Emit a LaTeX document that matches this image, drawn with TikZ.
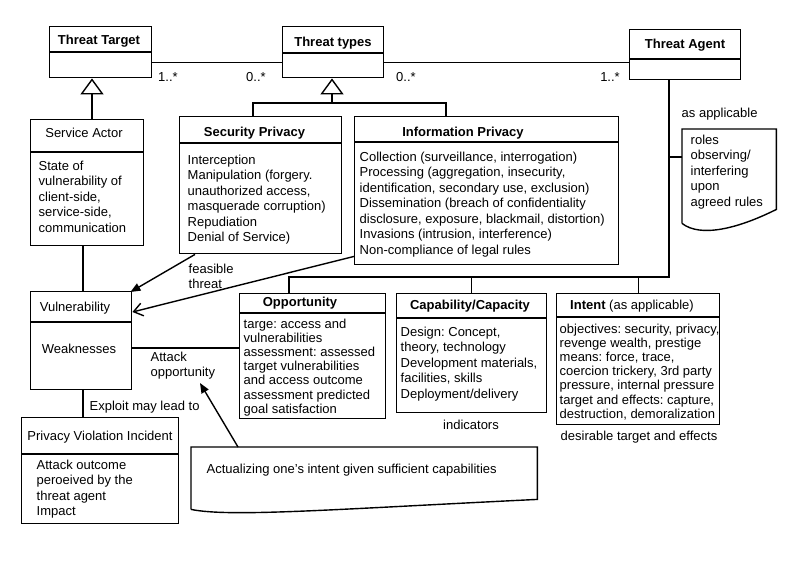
\documentclass[tikz,border=0pt]{standalone}
\usepackage{fontspec}
\setmainfont{Liberation Sans}
\usetikzlibrary{arrows.meta}
\frenchspacing

\tikzset{
  cls/.style={draw, anchor=north west, inner sep=0pt},
  ttl/.style={font=\fontsize{13pt}{15.5pt}\selectfont\bfseries, inner sep=0pt},
  txt/.style={align=left, anchor=north west, inner sep=0pt},
  tight/.style={font=\fontsize{13pt}{14.2pt}\selectfont},
  lbl/.style={inner sep=0pt},
  gen/.style={-{Triangle[open, length=16pt, width=23pt]}},
  dep/.style={-{Triangle[length=10pt, width=8pt]}},
  nav/.style={-{Straight Barb[length=9pt, width=13pt]}},
}

\begin{document}
\begin{tikzpicture}[x=1pt, y=-1pt, line width=1.4pt,
  font=\fontsize{13pt}{15.5pt}\selectfont]

  \fill[white] (0,0) rectangle (800,566);
  \useasboundingbox (0,0) rectangle (800,566);

  % Threat target
  \node[cls, minimum width=102pt, minimum height=51pt] (tt) at (49,26) {};
  \draw ([yshift=-26pt]tt.north west) -- ([yshift=-26pt]tt.north east);
  \node[ttl] (tt-t) at (99,41) {Threat Target};

  % Threat types
  \node[cls, minimum width=101pt, minimum height=51pt] (ty) at (282,26) {};
  \draw ([yshift=-27pt]ty.north west) -- ([yshift=-27pt]ty.north east);
  \node[ttl] (ty-t) at (333,43) {Threat types};

  % Threat agent
  \node[cls, minimum width=111pt, minimum height=50pt] (ta) at (629,29) {};
  \draw ([yshift=-30pt]ta.north west) -- ([yshift=-30pt]ta.north east);
  \node[ttl] (ta-t) at (685,45) {Threat Agent};

  % associaties
  \draw ([yshift=-10.5pt]tt.east) -- ([yshift=-10.5pt]ty.west);
  \draw ([yshift=-10.5pt]ty.east) -- ([yshift=-10.5pt]ty.east -| ta.west);
  \node[lbl] (m1) at (168,77) {1..*};
  \node[lbl] (m2) at (256,77) {0..*};
  \node[lbl] (m3) at (406,77) {0..*};
  \node[lbl] (m4) at (610,77) {1..*};

  % Service actor
  \node[cls, minimum width=113pt, minimum height=126pt] (sa) at (30,119) {};
  \draw ([yshift=-33pt]sa.north west) -- ([yshift=-33pt]sa.north east);
  \node[lbl] (sa-t) at (84,133) {Service Actor};
  \node[txt] (sa-b) at (38,160)
    {State of\\vulnerability of\\client-side,\\service-side,\\communication};
  \draw[gen] ([xshift=62pt]sa.north west) -- ([xshift=62pt]sa.north west |- tt.south);

  % Security privacy
  \node[cls, minimum width=162pt, minimum height=137pt] (sp) at (179,116) {};
  \draw ([yshift=-27pt]sp.north west) -- ([yshift=-27pt]sp.north east);
  \node[ttl] (sp-t) at (254.5,133) {Security Privacy};
  \node[txt] (sp-b) at (187,154)
    {Interception\\Manipulation (forgery.\\unauthorized access,\\masquerade corruption)\\Repudiation\\Denial of Service)};

  % Information privacy
  \node[cls, minimum width=264pt, minimum height=148pt] (ip) at (354,116) {};
  \draw ([yshift=-26pt]ip.north west) -- ([yshift=-26pt]ip.north east);
  \node[ttl] (ip-t) at (463,133) {Information Privacy};
  \node[txt] (ip-b) at (359,151)
    {Collection (surveillance, interrogation)\\Processing (aggregation, insecurity,\\identification, secondary use, exclusion)\\Dissemination (breach of confidentiality\\disclosure, exposure, blackmail, distortion)\\Invasions (intrusion, interference)\\Non-compliance of legal rules};

  % generalisatie threat types
  \coordinate (tyjoin) at (332,103);
  \draw[gen] (tyjoin) -- (tyjoin |- ty.south);
  \draw ([xshift=74pt]sp.north west) |- (tyjoin) -| ([xshift=92pt]ip.north west);

  % Roles
  \node[lbl, anchor=west] (asapp) at (681,114) {as applicable};
  \node[cls, draw=none, minimum width=93pt, minimum height=93pt] (roles) at (682,129) {};
  \draw (roles.south west) -- (roles.north west) -- (roles.north east)
    -- ([yshift=14pt]roles.south east)
    .. controls ([xshift=-40pt,yshift=-6pt]roles.south east)
    and ([xshift=18pt,yshift=-14pt]roles.south west) .. (roles.south west);
  \node[txt] (roles-b) at (690,134) {roles\\observing/\\interfering\\upon\\agreed rules};

  % Vulnerability
  \node[cls, minimum width=101pt, minimum height=98pt] (vu) at (30,291) {};
  \draw ([yshift=-31pt]vu.north west) -- ([yshift=-31pt]vu.north east);
  \node[lbl] (vu-t) at (75,308) {Vulnerability};
  \node[lbl] (vu-b) at (79,349) {Weaknesses};
  \draw ([xshift=53pt]sa.south west) -- ([xshift=53pt]sa.south west |- vu.north);

  % Opportunity
  \node[cls, minimum width=146pt, minimum height=125pt] (op) at (239,293) {};
  \draw ([yshift=-20pt]op.north west) -- ([yshift=-20pt]op.north east);
  \node[ttl] (op-t) at (300,303) {Opportunity};
  \node[txt, tight] (op-b) at (243,318)
    {targe: access and\\vulnerabilities\\assessment: assessed\\target vulnerabilities\\and access outcome\\assessment predicted\\goal satisfaction};

  % Capability
  \node[cls, minimum width=150pt, minimum height=119pt] (cc) at (396,293) {};
  \draw ([yshift=-25pt]cc.north west) -- ([yshift=-25pt]cc.north east);
  \node[ttl] (cc-t) at (470,306) {Capability/Capacity};
  \node[txt] (cc-b) at (400,326)
    {Design: Concept,\\theory, technology\\Development materials,\\facilities, skills\\Deployment/delivery};
  \node[lbl] (ind) at (471,425) {indicators};

  % Intent
  \node[cls, minimum width=163pt, minimum height=131pt] (in) at (556,293) {};
  \draw ([yshift=-24pt]in.north west) -- ([yshift=-24pt]in.north east);
  \node[lbl] (in-t) at (632,306) {\textbf{Intent} (as applicable)};
  \node[txt, tight] (in-b) at (559,323)
    {objectives: security, privacy,\\revenge wealth, prestige\\means: force, trace,\\coercion trickery, 3rd party\\pressure, internal pressure\\target and effects: capture,\\destruction, demoralization};
  \node[lbl] (des) at (639,437) {desirable target and effects};

  % Threat agent naar indicatoren
  \coordinate (bus) at (669,277);
  \draw ([xshift=40pt]ta.south west) -- (bus) -| ([xshift=50pt]op.north west);
  \draw (cc.north) -- (cc.north |- bus);
  \draw (in.north) -- (in.north |- bus);
  \draw ([yshift=-28pt]roles.north west) -- ([yshift=-28pt]roles.north west -| bus);

  % dreiging naar kwetsbaarheid
  \draw[dep] ([xshift=16pt]sp.south west) -- ([xshift=-2pt,yshift=-1pt]vu.north east);
  \node[txt] (feas) at (188,263) {feasible\\threat};
  \draw[nav] ([yshift=9pt]ip.south west) -- ([yshift=-21pt]vu.north east);

  % aanvalsmogelijkheid
  \draw ([yshift=-57pt]vu.north east) -- ([yshift=-57pt]vu.north east -| op.west);
  \node[txt] (attlbl) at (150,351) {Attack\\opportunity};

  % Privacy violation incident
  \node[cls, minimum width=157pt, minimum height=106pt] (pv) at (21,417) {};
  \draw ([yshift=-37pt]pv.north west) -- ([yshift=-37pt]pv.north east);
  \node[lbl] (pv-t) at (100,437) {Privacy Violation Incident};
  \node[txt] (pv-b) at (36,459)
    {Attack outcome\\peroeived by the\\threat agent\\Impact};
  \draw ([xshift=53pt]vu.south west) -- ([xshift=53pt]vu.south west |- pv.north);
  \node[lbl, anchor=west] (exlbl) at (89,407) {Exploit may lead to};

  % Actualizing note
  \node[cls, draw=none, minimum width=345pt, minimum height=61pt] (an) at (191,447) {};
  \draw (an.south west) -- (an.north west) -- (an.north east)
    -- ([yshift=10pt]an.south east)
    .. controls ([xshift=-206pt]an.south east)
    and ([xshift=39pt,yshift=-8pt]an.south west) .. (an.south west);
  \node[lbl, anchor=west] (an-t) at (206,470) {Actualizing one’s intent given sufficient capabilities};
  \draw[dep] ([xshift=47pt]an.north west) -- ([xshift=50pt,yshift=-3pt]attlbl.south west);

\end{tikzpicture}
\end{document}
